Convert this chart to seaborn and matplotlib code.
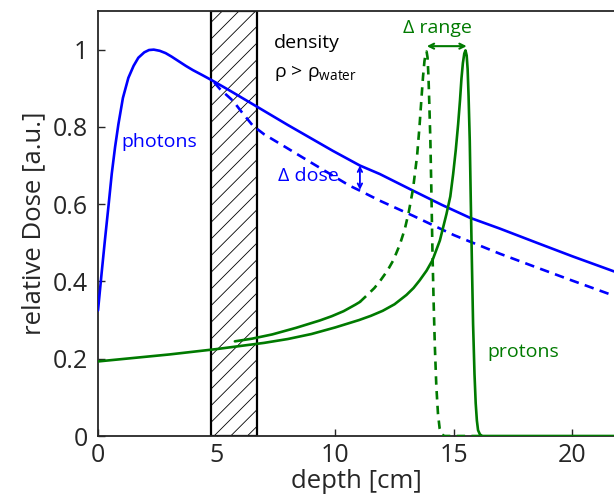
import matplotlib
matplotlib.use("Agg")
import matplotlib.pyplot as plt
from matplotlib.patches import Rectangle
import seaborn as sns

# ---- data ----
photon_x = [0.0, 0.15, 0.29, 0.45, 0.58, 0.72, 0.86, 1.05, 1.28, 1.5, 1.7, 1.95, 2.15, 2.35, 2.6,
            2.85, 3.1, 3.4, 3.7, 4.0, 4.4, 4.79, 5.5, 6.71, 8.0, 9.9, 11.04, 11.88, 13.28, 14.5,
            15.67, 16.93, 18.5, 20.0, 21.75]
photon_y = [0.325, 0.42, 0.506, 0.60, 0.679, 0.748, 0.807, 0.875, 0.927, 0.958, 0.979, 0.993, 0.999,
            1.0, 0.997, 0.991, 0.982, 0.970, 0.958, 0.947, 0.934, 0.921, 0.896, 0.852, 0.805, 0.738,
            0.70, 0.678, 0.635, 0.598, 0.565, 0.537, 0.500, 0.465, 0.426]

photon_dense_x = [4.9, 5.14, 5.7, 6.1, 6.53, 7.0, 7.95, 9.0, 10.6, 11.04, 11.88, 13.28, 15.0, 16.93,
                  18.5, 20.0, 21.75]
photon_dense_y = [0.915, 0.898, 0.867, 0.835, 0.803, 0.781, 0.746, 0.707, 0.648, 0.635, 0.609, 0.570,
                  0.52, 0.472, 0.436, 0.402, 0.363]

proton_x = [0.0, 1.0, 2.0, 3.0, 4.0, 5.0, 6.0, 7.0, 8.0, 9.0, 10.0, 11.0, 11.5, 12.0, 12.5, 13.0,
            13.3, 13.56, 13.85, 14.1, 14.41, 14.69, 14.85, 14.97, 15.08, 15.18, 15.26, 15.32, 15.38,
            15.44, 15.49, 15.54, 15.58, 15.62, 15.67, 15.71, 15.76, 15.81, 15.87, 15.92, 15.97, 16.02,
            16.1, 16.2, 18.0, 20.0, 21.75]
proton_y = [0.193, 0.199, 0.205, 0.211, 0.218, 0.225, 0.233, 0.241, 0.251, 0.264, 0.281, 0.300, 0.311,
            0.324, 0.341, 0.365, 0.383, 0.403, 0.428, 0.455, 0.506, 0.575, 0.620, 0.678, 0.740, 0.807,
            0.870, 0.925, 0.965, 0.990, 0.998, 0.985, 0.950, 0.880, 0.764, 0.620, 0.450, 0.290, 0.160,
            0.085, 0.040, 0.015, 0.004, 0.0, 0.0, 0.0, 0.0]

# proton curve shifted by the dense slab: solid part, then dashed part
shift_solid_x = [5.77, 6.5, 7.35, 8.35, 9.35, 9.85, 10.35, 10.85, 11.04]
shift_solid_y = [0.245, 0.252, 0.263, 0.280, 0.299, 0.310, 0.323, 0.340, 0.347]
shift_dash_x = [11.04, 11.35, 11.65, 11.91, 12.2, 12.45, 12.72, 12.93, 13.1, 13.28, 13.45, 13.55,
                13.63, 13.7, 13.76, 13.81, 13.85, 13.89, 13.93, 13.97, 14.01, 14.05, 14.1, 14.15,
                14.2, 14.26, 14.33, 14.4, 14.5, 14.6, 16.2]
shift_dash_y = [0.347, 0.365, 0.383, 0.403, 0.428, 0.455, 0.495, 0.535, 0.580, 0.640, 0.725, 0.800,
                0.870, 0.930, 0.970, 0.990, 0.995, 0.980, 0.930, 0.850, 0.764, 0.640, 0.470, 0.340,
                0.230, 0.130, 0.058, 0.020, 0.004, 0.0, 0.0]

box_x0, box_x1 = 4.76, 6.71
xticks = [0, 5, 10, 15, 20]
yticks = [0, 0.2, 0.4, 0.6, 0.8, 1.0]
ytick_labels = ["0", "0.2", "0.4", "0.6", "0.8", "1"]

BLUE = "#0000ff"
GREEN = "#007a00"
TXT = "#262626"

sns.set_theme(style="white")
plt.rcParams["font.family"] = ["Open Sans", "DejaVu Sans"]
plt.rcParams["hatch.linewidth"] = 0.6

fig = plt.figure(figsize=(6.14, 5.04), dpi=100)
ax = fig.add_axes([98 / 614, 68 / 504, 1 - 98 / 614, 425 / 504])

ax.add_patch(Rectangle((box_x0, 0), box_x1 - box_x0, 1.1, facecolor="white",
                       edgecolor="black", hatch="//", lw=1.6, zorder=1))

lw = 1.9
sns.lineplot(x=photon_x, y=photon_y, ax=ax, color=BLUE, lw=lw, sort=False, zorder=3)
sns.lineplot(x=photon_dense_x, y=photon_dense_y, ax=ax, color=BLUE, lw=lw, sort=False,
             linestyle=(0, (3.6, 2.4)), zorder=3)
sns.lineplot(x=proton_x, y=proton_y, ax=ax, color=GREEN, lw=lw, sort=False, zorder=3)
sns.lineplot(x=shift_solid_x, y=shift_solid_y, ax=ax, color=GREEN, lw=lw, sort=False, zorder=3)
sns.lineplot(x=shift_dash_x, y=shift_dash_y, ax=ax, color=GREEN, lw=lw, sort=False,
             linestyle=(0, (3.2, 2.4)), zorder=3)

# annotations
ax.annotate("", xy=(11.04, 0.70), xytext=(11.04, 0.637),
            arrowprops=dict(arrowstyle="<->", color=BLUE, lw=1.3, shrinkA=0, shrinkB=0,
                            mutation_scale=8))
ax.annotate("", xy=(13.86, 1.009), xytext=(15.54, 1.009),
            arrowprops=dict(arrowstyle="<->", color=GREEN, lw=1.5, shrinkA=0, shrinkB=0,
                            mutation_scale=9))
fs = 14
ax.text(1.0, 0.762, "photons", color=BLUE, fontsize=fs, va="center", ha="left")
ax.text(7.6, 0.672, "Δ dose", color=BLUE, fontsize=fs, va="center", ha="left")
ax.text(12.85, 1.055, "Δ range", color=GREEN, fontsize=fs, va="center", ha="left")
ax.text(16.4, 0.218, "protons", color=GREEN, fontsize=fs, va="center", ha="left")
ax.text(7.4, 1.018, "density", color="black", fontsize=fs, va="center", ha="left")
ax.text(7.4, 0.94, r"ρ > ρ$_{\mathregular{water}}$", color="black", fontsize=fs, va="center", ha="left")

ax.set_xlim(0, 21.75)
ax.set_ylim(0, 1.1)
ax.set_xticks(xticks)
ax.set_xticklabels([str(t) for t in xticks])
ax.set_yticks(yticks)
ax.set_yticklabels(ytick_labels)
ax.tick_params(axis="both", direction="in", length=5, width=1, colors=TXT, labelsize=18,
               bottom=True, left=True, top=False, right=False)
ax.tick_params(axis="x", pad=5)
ax.tick_params(axis="y", pad=7)
for s in ["left", "bottom", "top"]:
    ax.spines[s].set_color(TXT)
    ax.spines[s].set_linewidth(1.3)
ax.spines["right"].set_visible(False)
ax.set_xlabel("depth [cm]", fontsize=18.5, color=TXT, labelpad=1)
ax.set_ylabel("relative Dose [a.u.]", fontsize=18.5, color=TXT, labelpad=5)

fig.savefig("out.png", dpi=100)
